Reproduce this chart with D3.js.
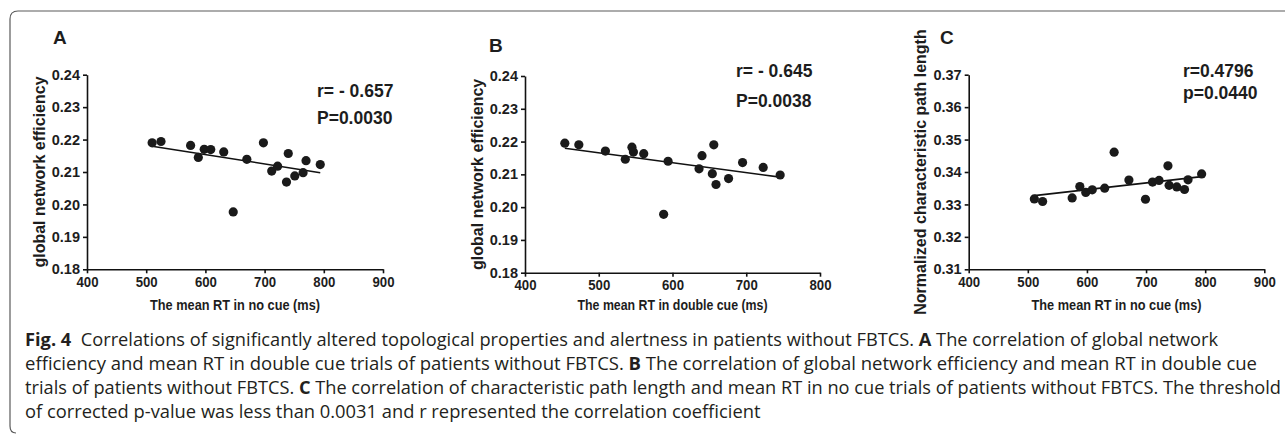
<!DOCTYPE html>
<html>
<head>
<meta charset="utf-8">
<script src="https://cdn.jsdelivr.net/npm/d3@7"></script>
<style>
  body { margin: 0; background: #fff; }
  svg text { font-family: "Liberation Sans", Arial, sans-serif; fill: #1d1d1d; }
  .caption text, .caption tspan { font-family: "Open Sans", "Noto Sans", sans-serif; fill: #231f20; }
</style>
</head>
<body>
<svg id="fig" width="1285" height="435"></svg>
<script>
// Panel A: mean RT in no cue vs global network efficiency
var rtNoCueA = [510, 525, 575, 588, 598, 609, 631, 647, 670, 698, 712, 722, 737, 740, 751, 765, 770, 794];
var effA = [0.2190, 0.2194, 0.2182, 0.2145, 0.2170, 0.2169, 0.2162, 0.1977, 0.2139, 0.2190, 0.2103, 0.2118, 0.2069, 0.2157, 0.2088, 0.2098, 0.2135, 0.2123];

// Panel B: mean RT in double cue vs global network efficiency
var rtDoubleCueB = [454, 473, 509, 536, 545, 547, 561, 588, 594, 636, 640, 654, 656, 659, 676, 695, 723, 746];
var effB = [0.2195, 0.2190, 0.2171, 0.2146, 0.2183, 0.2168, 0.2163, 0.1978, 0.2140, 0.2117, 0.2157, 0.2102, 0.2190, 0.2069, 0.2087, 0.2136, 0.2121, 0.2098];

// Panel C: mean RT in no cue vs normalized characteristic path length
var rtNoCueC = [511, 525, 575, 588, 598, 609, 630, 646, 671, 699, 711, 722, 737, 739, 752, 765, 771, 794];
var pathLenC = [0.3317, 0.3309, 0.3320, 0.3355, 0.3337, 0.3345, 0.3350, 0.3461, 0.3375, 0.3316, 0.3369, 0.3374, 0.3419, 0.3359, 0.3354, 0.3346, 0.3376, 0.3394];

// tick labels
var xTicks900 = [400, 500, 600, 700, 800, 900];
var xTicks800 = [400, 500, 600, 700, 800];
var yTicksEff = [0.18, 0.19, 0.20, 0.21, 0.22, 0.23, 0.24];
var yTicksPath = [0.31, 0.32, 0.33, 0.34, 0.35, 0.36, 0.37];

// stats text
var statsA = ["r= - 0.657", "P=0.0030"];
var statsB = ["r= - 0.645", "P=0.0038"];
var statsC = ["r=0.4796", "p=0.0440"];

var svg = d3.select("#fig");

// frame (top + left edge with rounded corners)
svg.append("path")
  .attr("d", "M16,433 Q10,433 10,426 L10,19 Q10,11 18,11 L1285,11")
  .attr("fill", "none")
  .attr("stroke", "#5a5a5a")
  .attr("stroke-width", 1.2);

var panels = [
  { letter: "A", lx: 53, ly: 44, xs: rtNoCueA, ys: effA, xDom: [400, 900], xTicks: xTicks900,
    yDom: [0.18, 0.24], yTicks: yTicksEff, left: 87, right: 383, top: 74.7, bottom: 269.3,
    yTitle: "global network efficiency", yTitleX: 39, xTitle: "The mean RT in no cue (ms)", xTitleW: 170,
    stats: statsA, sx: 317, sy: [97, 124] },
  { letter: "B", lx: 489, ly: 52, xs: rtDoubleCueB, ys: effB, xDom: [400, 800], xTicks: xTicks800,
    yDom: [0.18, 0.24], yTicks: yTicksEff, left: 525, right: 820, top: 76, bottom: 272.7,
    yTitle: "global network efficiency", yTitleX: 477, xTitle: "The mean RT in double cue (ms)", xTitleW: 190,
    stats: statsB, sx: 736, sy: [77, 107] },
  { letter: "C", lx: 940, ly: 44, xs: rtNoCueC, ys: pathLenC, xDom: [400, 900], xTicks: xTicks900,
    yDom: [0.31, 0.37], yTicks: yTicksPath, left: 968.7, right: 1264.3, top: 74.7, bottom: 269.3,
    yTitle: "Normalized characteristic path length", yTitleX: 920, xTitle: "The mean RT in no cue (ms)", xTitleW: 170,
    stats: statsC, sx: 1183, sy: [77, 99] }
];

panels.forEach(function(p) {
  var x = d3.scaleLinear().domain(p.xDom).range([p.left, p.right]);
  var y = d3.scaleLinear().domain(p.yDom).range([p.bottom, p.top]);
  var g = svg.append("g");

  // panel letter
  g.append("text")
    .attr("x", p.lx).attr("y", p.ly)
    .attr("font-size", 19).attr("font-weight", "bold")
    .text(p.letter);

  // axes
  var yAxis = g.append("g")
    .attr("transform", `translate(${p.left},0)`)
    .call(d3.axisLeft(y).tickValues(p.yTicks).tickFormat(d3.format(".2f")).tickSize(4).tickSizeOuter(0).tickPadding(3));
  var xAxis = g.append("g")
    .attr("transform", `translate(0,${p.bottom})`)
    .call(d3.axisBottom(x).tickValues(p.xTicks).tickFormat(d3.format("d")).tickSize(4).tickSizeOuter(0).tickPadding(3));

  [yAxis, xAxis].forEach(function(a) {
    a.select(".domain").attr("stroke", "#111").attr("stroke-width", 1.6);
    a.selectAll(".tick line").attr("stroke", "#111").attr("stroke-width", 1.6);
    a.selectAll(".tick text").attr("fill", "#1d1d1d").attr("font-weight", "bold")
      .attr("font-family", '"Liberation Sans", Arial, sans-serif');
  });
  yAxis.selectAll(".tick text").attr("font-size", 14.5);
  xAxis.selectAll(".tick text").attr("font-size", 15).attr("transform", "scale(0.88,1)");

  // axis titles
  g.append("text")
    .attr("transform", `translate(${p.yTitleX},${(p.top + p.bottom) / 2}) rotate(-90)`)
    .attr("text-anchor", "middle").attr("dy", "0.35em")
    .attr("font-size", 16).attr("font-weight", "bold")
    .text(p.yTitle);

  g.append("text")
    .attr("x", (p.left + p.right) / 2 - p.xTitleW / 2).attr("y", 310)
    .attr("font-size", 15.5).attr("font-weight", "bold")
    .attr("textLength", p.xTitleW).attr("lengthAdjust", "spacingAndGlyphs")
    .text(p.xTitle);

  // regression line (least squares on the points)
  var mx = d3.mean(p.xs), my = d3.mean(p.ys);
  var sxy = d3.sum(p.xs, function(v, i) { return (v - mx) * (p.ys[i] - my); });
  var sxx = d3.sum(p.xs, function(v) { return (v - mx) * (v - mx); });
  var slope = sxy / sxx, icpt = my - slope * mx;
  var xExt = d3.extent(p.xs);
  g.append("line")
    .attr("x1", x(xExt[0])).attr("y1", y(icpt + slope * xExt[0]))
    .attr("x2", x(xExt[1])).attr("y2", y(icpt + slope * xExt[1]))
    .attr("stroke", "#111").attr("stroke-width", 1.6);

  // points
  g.selectAll(".dot")
    .data(p.xs.map(function(v, i) { return [v, p.ys[i]]; }))
    .enter()
    .append("circle")
    .attr("class", "dot")
    .attr("cx", d => x(d[0]))
    .attr("cy", d => y(d[1]))
    .attr("r", 4.6)
    .attr("fill", "#1a1a1a");

  // r / p values
  p.stats.forEach(function(s, i) {
    g.append("text")
      .attr("x", p.sx).attr("y", p.sy[i])
      .attr("font-size", 17.5).attr("font-weight", "bold")
      .text(s);
  });
});

// caption
var capLines = [
  [["Fig. 4", true], ["  Correlations of significantly altered topological properties and alertness in patients without FBTCS. ", false], ["A", true], [" The correlation of global network", false]],
  [["efficiency and mean RT in double cue trials of patients without FBTCS. ", false], ["B", true], [" The correlation of global network efficiency and mean RT in double cue", false]],
  [["trials of patients without FBTCS. ", false], ["C", true], [" The correlation of characteristic path length and mean RT in no cue trials of patients without FBTCS. The threshold", false]],
  [["of corrected p-value was less than 0.0031 and r represented the correlation coefficient", false]]
];
var capWidths = [1193, 1232, 1256, null];
var capBase = [346, 370, 394, 418];

var cap = svg.append("g").attr("class", "caption");
var texts = capLines.map(function(line, i) {
  var t = cap.append("text")
    .attr("x", 25).attr("y", capBase[i])
    .attr("font-size", 17.5)
    .attr("xml:space", "preserve");
  line.forEach(function(seg) {
    t.append("tspan").attr("font-weight", seg[1] ? "bold" : "normal").text(seg[0]);
  });
  return t;
});
var ratios = [];
texts.forEach(function(t, i) {
  if (capWidths[i]) ratios.push(capWidths[i] / t.node().getComputedTextLength());
});
var meanRatio = d3.mean(ratios);
texts.forEach(function(t, i) {
  var w = capWidths[i] || t.node().getComputedTextLength() * meanRatio;
  t.attr("textLength", w).attr("lengthAdjust", "spacingAndGlyphs");
});
</script>
</body>
</html>
